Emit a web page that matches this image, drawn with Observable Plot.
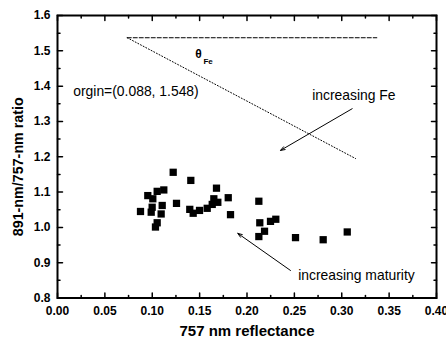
<!DOCTYPE html>
<html>
<head>
<meta charset="utf-8">
<script src="https://cdn.jsdelivr.net/npm/d3@7"></script>
<script src="https://cdn.jsdelivr.net/npm/@observablehq/plot@0.6"></script>
<style>
  html, body { margin: 0; padding: 0; background: #fff; }
  svg { font-family: "Liberation Sans", Arial, sans-serif; }
</style>
</head>
<body>
<div id="chart"></div>
<script>
// Data
const reflectance = [0.1221,0.1407,0.0953,0.1006,0.1052,0.1122,0.0876,0.0999,0.0989,0.1105,0.1094,0.1052,0.1034,0.1256,0.1396,0.1432,0.1499,0.1580,0.1633,0.1650,0.1692,0.1678,0.1802,0.1826,0.2125,0.2135,0.2185,0.2125,0.2248,0.2304,0.2512,0.2804,0.3058];
const ratio       = [1.156,1.133,1.090,1.081,1.102,1.106,1.045,1.057,1.043,1.062,1.038,1.013,1.001,1.068,1.051,1.040,1.048,1.054,1.065,1.081,1.071,1.111,1.084,1.036,1.074,1.013,0.989,0.974,1.017,1.023,0.971,0.965,0.987];

// reference lines (origin, horizontal end, Fe-line end)
const refLineX = [0.0736, 0.337];
const refLineY = [1.537, 1.537];
const feLineX  = [0.0736, 0.3145];
const feLineY  = [1.537, 1.195];

// annotation arrows
const arrowX1 = [0.311, 0.2459];
const arrowY1 = [1.336, 0.878];
const arrowX2 = [0.2354, 0.1903];
const arrowY2 = [1.218, 0.983];

// annotation texts
const noteText = ["orgin=(0.088, 1.548)", "increasing Fe", "increasing maturity"];
const noteX = [0.0166, 0.2688, 0.254];
const noteY = [1.386, 1.373, 0.8637];

const thetaX = [0.1488];
const thetaY = [1.490];

// axis ticks
const xMajor = [0, 0.05, 0.10, 0.15, 0.20, 0.25, 0.30, 0.35, 0.40];
const xMajorLabels = ["0.00","0.05","0.10","0.15","0.20","0.25","0.30","0.35","0.40"];
const xMinor = [0.025, 0.075, 0.125, 0.175, 0.225, 0.275, 0.325, 0.375];
const yMajor = [0.8, 0.9, 1.0, 1.1, 1.2, 1.3, 1.4, 1.5, 1.6];
const yMajorLabels = ["0.8","0.9","1.0","1.1","1.2","1.3","1.4","1.5","1.6"];
const yMinor = [0.85, 0.95, 1.05, 1.15, 1.25, 1.35, 1.45, 1.55];

const points = reflectance.map((x, i) => ({x, y: ratio[i]}));
const notes = noteText.map((t, i) => ({t, x: noteX[i], y: noteY[i]}));
const arrows = arrowX1.map((x1, i) => ({x1, y1: arrowY1[i], x2: arrowX2[i], y2: arrowY2[i]}));

const tickShape = { draw(context, l) { context.moveTo(0, 0); context.lineTo(0, -l); } };
const tickMarks = (vals, opts, len) => Plot.vector(vals, {...opts, length: len, anchor: "start", shape: tickShape, stroke: "#000", strokeWidth: 1.5});

const chart = Plot.plot({
  width: 446,
  height: 339,
  marginLeft: 57,
  marginRight: 10,
  marginTop: 15,
  marginBottom: 41.5,
  style: { background: "#fff", fontFamily: "Liberation Sans, Arial, sans-serif", overflow: "visible" },
  x: { domain: [0, 0.4] },
  y: { domain: [0.8, 1.6] },
  marks: [
    // tick labels
    Plot.axisX({ticks: xMajor, tickFormat: (d) => xMajorLabels[xMajor.indexOf(d)], tickSize: 0, tickPadding: 8, fontSize: 12, fontWeight: "bold", fill: "#000", label: null}),
    Plot.axisY({ticks: yMajor, tickFormat: (d) => yMajorLabels[yMajor.indexOf(d)], tickSize: 0, tickPadding: 7, fontSize: 12, fontWeight: "bold", fill: "#000", label: null}),
    // inward ticks on four sides
    tickMarks(xMajor, {x: d => d, y: 0.8, rotate: 0}, 5),
    tickMarks(xMinor, {x: d => d, y: 0.8, rotate: 0}, 2.5),
    tickMarks(xMajor, {x: d => d, y: 1.6, rotate: 180}, 5),
    tickMarks(xMinor, {x: d => d, y: 1.6, rotate: 180}, 2.5),
    tickMarks(yMajor, {y: d => d, x: 0, rotate: 90}, 5),
    tickMarks(yMinor, {y: d => d, x: 0, rotate: 90}, 2.5),
    tickMarks(yMajor, {y: d => d, x: 0.4, rotate: -90}, 5),
    tickMarks(yMinor, {y: d => d, x: 0.4, rotate: -90}, 2.5),
    Plot.frame({stroke: "#000", strokeWidth: 2}),
    // axis titles
    Plot.text(["757 nm reflectance"], {frameAnchor: "bottom", dy: 33.5, lineAnchor: "middle", textAnchor: "middle", text: d => d, fontSize: 15, fontWeight: "bold", fill: "#000"}),
    Plot.text(["891-nm/757-nm ratio"], {frameAnchor: "left", dx: -39, dy: 10, rotate: -90, textAnchor: "middle", lineAnchor: "middle", text: d => d, fontSize: 14.3, fontWeight: "bold", fill: "#000"}),
    // reference lines
    Plot.line(refLineX.map((x, i) => ({x, y: refLineY[i]})), {x: "x", y: "y", stroke: "#000", strokeWidth: 1, strokeDasharray: "4,2"}),
    Plot.line(feLineX.map((x, i) => ({x, y: feLineY[i]})), {x: "x", y: "y", stroke: "#000", strokeWidth: 1, strokeDasharray: "1,2"}),
    // arrows
    Plot.arrow(arrows, {x1: "x1", y1: "y1", x2: "x2", y2: "y2", stroke: "#000", strokeWidth: 1, headLength: 7, headAngle: 40}),
    // notes
    Plot.text(notes, {x: "x", y: "y", text: "t", textAnchor: "start", fontSize: 13.9, fill: "#000"}),
    Plot.text(thetaX.map((x, i) => ({x, y: thetaY[i]})), {x: "x", y: "y", text: () => "θ", fontSize: 12, fontWeight: "bold", fill: "#000"}),
    Plot.text(thetaX.map((x, i) => ({x, y: thetaY[i]})), {x: "x", y: "y", text: () => "Fe", dx: 5, dy: 7.5, textAnchor: "start", fontSize: 8, fontWeight: "bold", fill: "#000"}),
    // data
    Plot.dot(points, {x: "x", y: "y", symbol: "square", r: 4.1, fill: "#000", stroke: "none"})
  ]
});
document.getElementById("chart").appendChild(chart);
</script>
</body>
</html>
